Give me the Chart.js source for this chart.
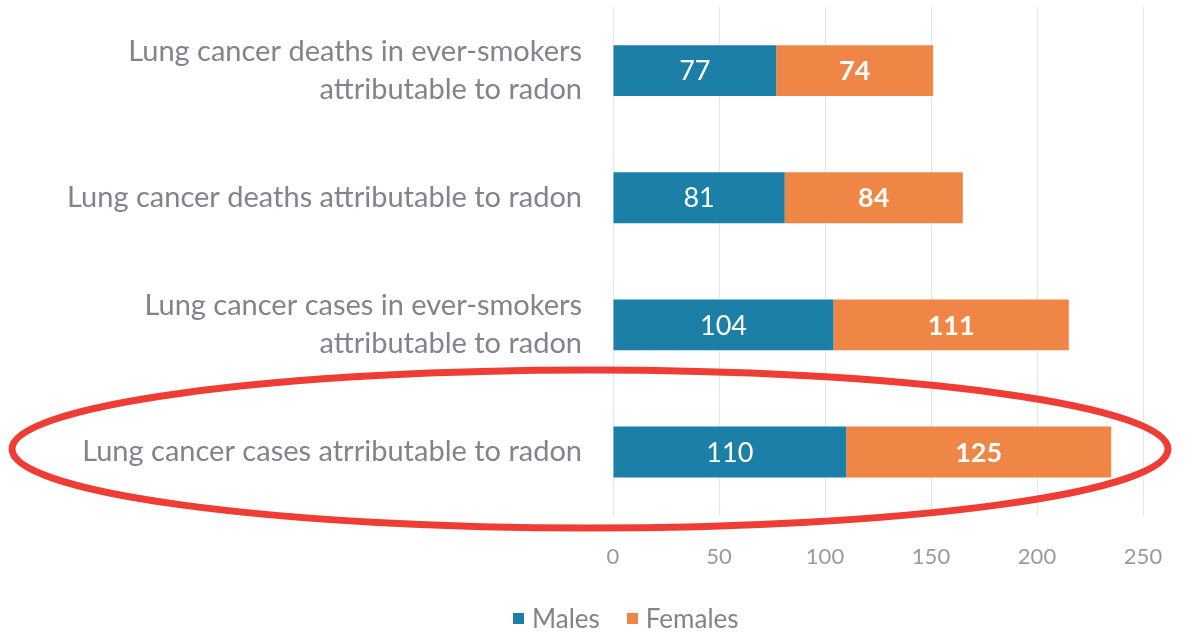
<!DOCTYPE html>
<html>
<head>
<meta charset="utf-8">
<script src="https://cdn.jsdelivr.net/npm/chart.js@4/dist/chart.umd.min.js"></script>
<style>
  html, body { margin: 0; padding: 0; background: #fff; }
  #wrap { width: 1195px; height: 637px; position: relative; }
  #legend { position: absolute; left: 513px; top: 602px; display: flex; align-items: center;
            font-family: Lato, sans-serif; font-size: 26px; color: #85818e; }
  #legend span.box { display: inline-block; width: 11px; height: 11px; margin-right: 8px; }
  #legend span.item { display: inline-flex; align-items: center; margin-right: 27px; }
</style>
</head>
<body>
<div id="wrap"><canvas id="radonChart"></canvas><div id="legend"></div></div>
<script>
const categories = [
    ['Lung cancer deaths in ever-smokers', 'attributable to radon'],
    'Lung cancer deaths attributable to radon',
    ['Lung cancer cases in ever-smokers', 'attributable to radon'],
    'Lung cancer cases atrributable to radon'
]
const males = [77, 81, 104, 110]
const females = [74, 84, 111, 125]
const xTicks = [0, 50, 100, 150, 200, 250]

const BLUE = '#1b7fa7'
const ORANGE = '#ef8645'
const GREY = '#85818e'

// white numbers inside every segment, females in bold
const barLabels = {
    id: 'barLabels',
    afterDatasetsDraw(chart) {
        const { ctx } = chart
        chart.data.datasets.forEach((ds, i) => {
            const meta = chart.getDatasetMeta(i)
            meta.data.forEach((bar, j) => {
                const cx = (bar.x + bar.base) / 2
                ctx.save()
                ctx.fillStyle = '#ffffff'
                ctx.font = (i === 1 ? 'bold ' : '') + '27px Lato'
                ctx.textAlign = 'center'
                ctx.textBaseline = 'middle'
                ctx.fillText(ds.data[j], cx, bar.y + 1)
                ctx.restore()
            })
        })
    }
}

// red ring round the last row
const highlightRing = {
    id: 'highlightRing',
    afterDraw(chart) {
        const { ctx } = chart
        const y = chart.scales.y.getPixelForValue(categories.length - 1) - 3
        ctx.save()
        ctx.strokeStyle = '#ef3d35'
        ctx.lineWidth = 7
        ctx.beginPath()
        ctx.ellipse(590, y, 578, 79, 0, 0, Math.PI * 2)
        ctx.stroke()
        ctx.restore()
    }
}

const ctx = document.getElementById('radonChart').getContext('2d')
const radonChart = new Chart(ctx, {
    type: 'bar',
    data: {
        labels: categories,
        datasets: [
            { label: 'Males', data: males, backgroundColor: BLUE },
            { label: 'Females', data: females, backgroundColor: ORANGE }
        ]
    },
    options: {
        indexAxis: 'y',
        responsive: true,
        maintainAspectRatio: false,
        animation: false,
        layout: { padding: { top: 7, right: 52, bottom: 39, left: 0 } },
        categoryPercentage: 1,
        barPercentage: 0.4,
        scales: {
            x: {
                stacked: true,
                min: 0,
                max: 250,
                afterBuildTicks: axis => { axis.ticks = xTicks.map(v => ({ value: v })) },
                border: { display: false },
                grid: { color: '#e6e6ea', lineWidth: 1, drawTicks: false },
                ticks: { color: '#999aa0', font: { family: 'Lato', size: 22 }, padding: 28 }
            },
            y: {
                stacked: true,
                afterFit: axis => {
                    axis.width = 613
                    axis.paddingTop = 0
                    axis.paddingBottom = 0
                },
                border: { display: false },
                grid: { display: false, drawTicks: false },
                ticks: {
                    color: GREY,
                    padding: 31,
                    font: { family: 'Lato', size: 29, lineHeight: 1.31 }
                }
            }
        },
        plugins: {
            legend: { display: false },
            tooltip: { enabled: false }
        }
    },
    plugins: [barLabels, highlightRing]
})

// legend under the axis, built from the datasets
const legendEl = document.getElementById('legend')
radonChart.data.datasets.forEach(ds => {
    const item = document.createElement('span')
    item.className = 'item'
    const box = document.createElement('span')
    box.className = 'box'
    box.style.background = ds.backgroundColor
    item.appendChild(box)
    item.appendChild(document.createTextNode(ds.label))
    legendEl.appendChild(item)
})
</script>
</body>
</html>
